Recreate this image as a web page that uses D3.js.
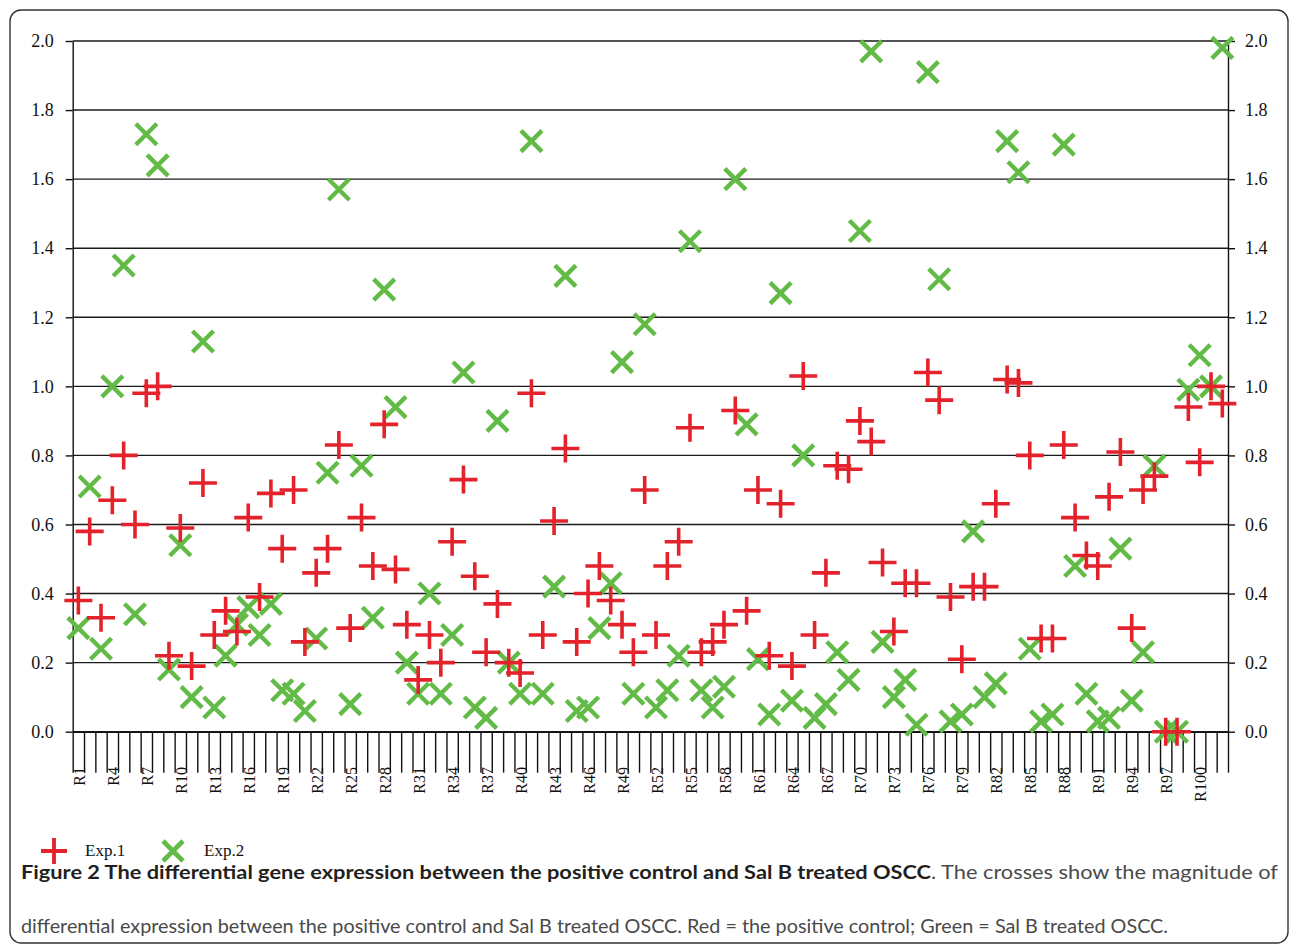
<!DOCTYPE html>
<html>
<head>
<meta charset="utf-8">
<script src="https://cdn.jsdelivr.net/npm/d3@7"></script>
<style>
body { margin: 0; background: #fff; }
</style>
</head>
<body>
<div class="container"></div>
<script>
const w = 1290;
const h = 946;

// categories R1 .. R102, every third one gets a label
const categories = d3.range(1, 103).map(i => 'R' + i);
const seriesNames = ['Exp.1', 'Exp.2'];
const yTicks = [0, 0.2, 0.4, 0.6, 0.8, 1.0, 1.2, 1.4, 1.6, 1.8, 2.0];

// Exp.1 (red, positive control)
const exp1 = [
    0.38, 0.58, 0.33, 0.67, 0.80, 0.60, 0.98, 1.00, 0.22, 0.59,
    0.19, 0.72, 0.28, 0.35, 0.29, 0.62, 0.39, 0.69, 0.53, 0.70,
    0.26, 0.46, 0.53, 0.83, 0.30, 0.62, 0.48, 0.89, 0.47, 0.31,
    0.15, 0.28, 0.20, 0.55, 0.73, 0.45, 0.23, 0.37, 0.20, 0.17,
    0.98, 0.28, 0.61, 0.82, 0.26, 0.40, 0.48, 0.38, 0.31, 0.23,
    0.70, 0.28, 0.48, 0.55, 0.88, 0.23, 0.26, 0.31, 0.93, 0.35,
    0.70, 0.22, 0.66, 0.19, 1.03, 0.28, 0.46, 0.77, 0.76, 0.90,
    0.84, 0.49, 0.29, 0.43, 0.43, 1.04, 0.96, 0.39, 0.21, 0.42,
    0.42, 0.66, 1.02, 1.01, 0.80, 0.27, 0.27, 0.83, 0.62, 0.51,
    0.48, 0.68, 0.81, 0.30, 0.70, 0.74, 0.00, 0.00, 0.94, 0.78,
    1.00, 0.95
];

// Exp.2 (green, Sal B treated)
const exp2 = [
    0.30, 0.71, 0.24, 1.00, 1.35, 0.34, 1.73, 1.64, 0.18, 0.54,
    0.10, 1.13, 0.07, 0.22, 0.31, 0.36, 0.28, 0.37, 0.12, 0.11,
    0.06, 0.27, 0.75, 1.57, 0.08, 0.77, 0.33, 1.28, 0.94, 0.20,
    0.11, 0.40, 0.11, 0.28, 1.04, 0.07, 0.04, 0.90, 0.20, 0.11,
    1.71, 0.11, 0.42, 1.32, 0.06, 0.07, 0.30, 0.43, 1.07, 0.11,
    1.18, 0.07, 0.12, 0.22, 1.42, 0.12, 0.07, 0.13, 1.60, 0.89,
    0.21, 0.05, 1.27, 0.09, 0.80, 0.04, 0.08, 0.23, 0.15, 1.45,
    1.97, 0.26, 0.10, 0.15, 0.02, 1.91, 1.31, 0.03, 0.05, 0.58,
    0.10, 0.14, 1.71, 1.62, 0.24, 0.03, 0.05, 1.70, 0.48, 0.11,
    0.03, 0.04, 0.53, 0.09, 0.23, 0.77, 0.00, 0.00, 0.99, 1.09,
    1.00, 1.98
];

const captionBold = 'Figure 2 The differential gene expression between the positive control and Sal B treated OSCC';
const captionRest = '. The crosses show the magnitude of';
const captionLine2 = 'differential expression between the positive control and Sal B treated OSCC. Red = the positive control; Green = Sal B treated OSCC.';

const plotLeft = 72.7, plotRight = 1228, plotTop = 41, plotBottom = 731.7;
const red = '#e3222b';
const green = '#63bb47';
const axisFont = '"Liberation Serif", "DejaVu Serif", serif';

const svg = d3.select('.container')
    .append('svg')
    .attr('width', w)
    .attr('height', h);

// rounded frame around figure
svg.append('rect')
    .attr('x', 10).attr('y', 10)
    .attr('width', 1278).attr('height', 933)
    .attr('rx', 11)
    .attr('fill', 'none')
    .attr('stroke', '#333')
    .attr('stroke-width', 1.4);

const x = d3.scaleBand().domain(categories).range([plotLeft, plotRight]);
const xEdge = d3.scaleLinear().domain([0, categories.length]).range([plotLeft, plotRight]);
const y = d3.scaleLinear().domain([0, 2]).range([plotBottom, plotTop]);

// horizontal gridlines
svg.append('g')
    .selectAll('line')
    .data(yTicks)
    .join('line')
    .attr('x1', plotLeft).attr('x2', plotRight)
    .attr('y1', d => y(d)).attr('y2', d => y(d))
    .attr('stroke', '#1a1a1a')
    .attr('stroke-width', 1.4);

function styleAxis(g) {
    g.selectAll('path, line').attr('stroke', '#111').attr('stroke-width', 1.4);
    g.selectAll('text')
        .attr('fill', '#111')
        .style('font-family', axisFont)
        .style('font-size', '18px');
}

const yAxisLeft = d3.axisLeft(y)
    .tickValues(yTicks)
    .tickFormat(d3.format('.1f'))
    .tickSize(7)
    .tickSizeOuter(0)
    .tickPadding(12);

const yAxisRight = d3.axisRight(y)
    .tickValues(yTicks)
    .tickFormat(d3.format('.1f'))
    .tickSize(7)
    .tickSizeOuter(0)
    .tickPadding(10);

svg.append('g')
    .attr('id', 'y-axis-left')
    .attr('transform', `translate(${plotLeft}, 0)`)
    .call(yAxisLeft)
    .call(styleAxis);

svg.append('g')
    .attr('id', 'y-axis-right')
    .attr('transform', `translate(${plotRight}, 0)`)
    .call(yAxisRight)
    .call(styleAxis);

// x axis: long ticks on every category boundary
const xAxis = d3.axisBottom(xEdge)
    .tickValues(d3.range(0, categories.length + 1))
    .tickFormat('')
    .tickSize(41)
    .tickSizeOuter(0);

svg.append('g')
    .attr('id', 'x-axis')
    .attr('transform', `translate(0, ${plotBottom})`)
    .call(xAxis)
    .call(styleAxis);

svg.append('g')
    .selectAll('text')
    .data(categories.filter((d, i) => i % 3 === 0))
    .join('text')
    .attr('transform', d => `translate(${x(d) + x.bandwidth() / 2 + 1}, 767) rotate(-90)`)
    .attr('text-anchor', 'end')
    .attr('dy', '0.35em')
    .attr('fill', '#111')
    .style('font-family', axisFont)
    .style('font-size', '16px')
    .text(d => d);

// marker shapes for d3.symbol, size = half length of the arms
const plusShape = {
    draw(ctx, r) {
        ctx.moveTo(-r, 0); ctx.lineTo(r, 0);
        ctx.moveTo(0, -r); ctx.lineTo(0, r);
    }
};
const timesShape = {
    draw(ctx, r) {
        ctx.moveTo(-r, -r); ctx.lineTo(r, r);
        ctx.moveTo(-r, r); ctx.lineTo(r, -r);
    }
};

const cx = d => x(d) + x.bandwidth() / 2;

svg.append('g')
    .attr('class', 'exp2')
    .selectAll('path')
    .data(categories)
    .join('path')
    .attr('d', d3.symbol(timesShape, 10.5))
    .attr('transform', (d, i) => `translate(${cx(d)}, ${y(exp2[i])})`)
    .attr('fill', 'none')
    .attr('stroke', green)
    .attr('stroke-width', 4.4);

svg.append('g')
    .attr('class', 'exp1')
    .selectAll('path')
    .data(categories)
    .join('path')
    .attr('d', d3.symbol(plusShape, 14))
    .attr('transform', (d, i) => `translate(${cx(d)}, ${y(exp1[i])})`)
    .attr('fill', 'none')
    .attr('stroke', red)
    .attr('stroke-width', 3.6);

// legend
const legend = svg.append('g').attr('class', 'legend');
legend.append('path')
    .attr('d', d3.symbol(plusShape, 13))
    .attr('transform', 'translate(54, 851)')
    .attr('fill', 'none').attr('stroke', red).attr('stroke-width', 3.8);
legend.append('path')
    .attr('d', d3.symbol(timesShape, 10))
    .attr('transform', 'translate(173, 851)')
    .attr('fill', 'none').attr('stroke', green).attr('stroke-width', 4.6);
legend.selectAll('text')
    .data(seriesNames)
    .join('text')
    .attr('x', (d, i) => i === 0 ? 85 : 204)
    .attr('y', 856)
    .attr('fill', '#111')
    .style('font-family', axisFont)
    .style('font-size', '17px')
    .text(d => d);

// caption, squeezed to the widths of the printed lines
const cap1 = svg.append('text')
    .attr('x', 21).attr('y', 879)
    .attr('textLength', 1257)
    .attr('lengthAdjust', 'spacingAndGlyphs')
    .style('font-family', 'Lato, "Open Sans", sans-serif')
    .style('font-size', '19.5px');
cap1.append('tspan').style('font-weight', 'bold').attr('fill', '#231f20').text(captionBold);
cap1.append('tspan').attr('fill', '#4a4a4a').text(captionRest);

svg.append('text')
    .attr('x', 21).attr('y', 933)
    .attr('textLength', 1147)
    .attr('lengthAdjust', 'spacingAndGlyphs')
    .attr('fill', '#4a4a4a')
    .style('font-family', 'Lato, "Open Sans", sans-serif')
    .style('font-size', '19.5px')
    .text(captionLine2);
</script>
</body>
</html>
